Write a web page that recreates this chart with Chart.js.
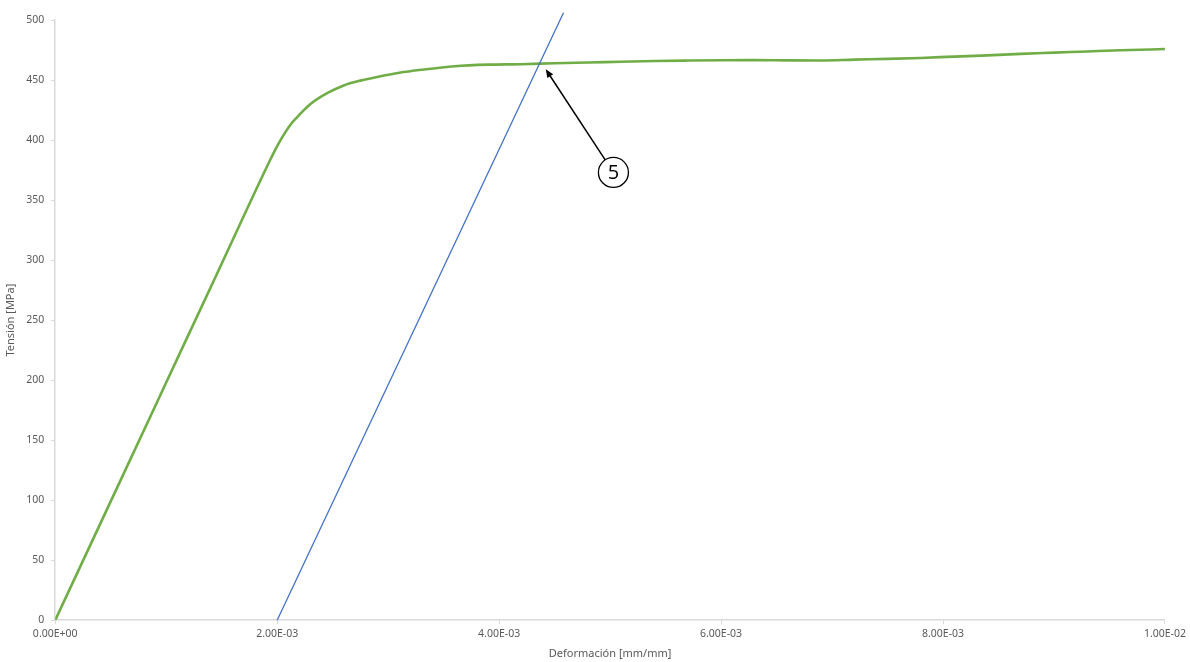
<!DOCTYPE html>
<html>
<head>
<meta charset="utf-8">
<script src="https://cdn.jsdelivr.net/npm/chart.js@4.4.1/dist/chart.umd.min.js"></script>
<style>
  html, body { margin: 0; padding: 0; background: #fff; }
  #wrap { width: 1190px; height: 662px; }
</style>
</head>
<body>
<div id="wrap"><canvas id="chart" width="1190" height="662"></canvas></div>
<script>
// Stress-strain curve (green)
const strainValues = [0, 0.0005, 0.0010, 0.0015, 0.00194, 0.0020, 0.00207, 0.00213, 0.0022, 0.0023,
    0.00245, 0.0026, 0.00275, 0.0029, 0.0031, 0.0033, 0.0036, 0.0039, 0.0042, 0.0045,
    0.0048, 0.0051, 0.0054, 0.0057, 0.006, 0.0063, 0.0066, 0.0069, 0.0072, 0.0075,
    0.0078, 0.0081, 0.0084, 0.0087, 0.009, 0.0093, 0.0096, 0.01];
const stressValues = [0, 99, 198, 297, 384, 395, 406, 414, 421, 430,
    439, 445.5, 449.5, 452.5, 456, 458.5, 461.5, 462.8, 463.2, 464,
    464.6, 465.2, 465.8, 466.2, 466.5, 466.6, 466.4, 466.3, 467, 467.6,
    468.4, 469.5, 470.5, 471.8, 472.8, 473.8, 474.8, 475.8];

// 0.2% offset line (blue)
const offsetStrain = [0.002, 0.00458];
const offsetStress = [0, 506];

// Axis ticks
const xTicks = [0, 0.002, 0.004, 0.006, 0.008, 0.01];
const yTicks = [0, 50, 100, 150, 200, 250, 300, 350, 400, 450, 500];

// Marker "5": arrow tip and circle centre, in data units
const markerLabel = '5';
const markerTip = [0.00442, 459];
const markerCircle = [0.00503, 373];

const textGray = '#595959';
const axisGray = '#d9d9d9';

function toPoints(xs, ys) {
    return xs.map((x, i) => ({ x: x, y: ys[i] }));
}

// Excel-like scientific label, e.g. 2.00E-03
function sciLabel(v) {
    if (v === 0) return '0.00E+00';
    const exp = Math.floor(Math.log10(Math.abs(v)) + 1e-9);
    const mant = v / Math.pow(10, exp);
    const sign = exp < 0 ? '-' : '+';
    return mant.toFixed(2) + 'E' + sign + String(Math.abs(exp)).padStart(2, '0');
}

// Draws the circled number with its arrow
const markerPlugin = {
    id: 'marker',
    afterDatasetsDraw(chart) {
        const { ctx, scales } = chart;
        const tx = scales.x.getPixelForValue(markerTip[0]);
        const ty = scales.y.getPixelForValue(markerTip[1]);
        const cx = scales.x.getPixelForValue(markerCircle[0]);
        const cy = scales.y.getPixelForValue(markerCircle[1]);
        const r = 15;
        const ang = Math.atan2(ty - cy, tx - cx);
        const sx = cx + Math.cos(ang) * r;
        const sy = cy + Math.sin(ang) * r;
        const head = 9;

        ctx.save();
        ctx.strokeStyle = '#000';
        ctx.fillStyle = '#000';
        ctx.lineWidth = 1.5;
        ctx.beginPath();
        ctx.moveTo(sx, sy);
        ctx.lineTo(tx - Math.cos(ang) * head * 0.8, ty - Math.sin(ang) * head * 0.8);
        ctx.stroke();
        ctx.beginPath();
        ctx.moveTo(tx, ty);
        ctx.lineTo(tx - head * Math.cos(ang - 0.4), ty - head * Math.sin(ang - 0.4));
        ctx.lineTo(tx - head * Math.cos(ang + 0.4), ty - head * Math.sin(ang + 0.4));
        ctx.closePath();
        ctx.fill();

        ctx.beginPath();
        ctx.arc(cx, cy, r, 0, Math.PI * 2);
        ctx.fillStyle = '#fff';
        ctx.fill();
        ctx.lineWidth = 1.3;
        ctx.stroke();
        ctx.fillStyle = '#000';
        ctx.font = '20px "Open Sans", sans-serif';
        ctx.textAlign = 'center';
        ctx.textBaseline = 'middle';
        ctx.fillText(markerLabel, cx, cy + 1);
        ctx.restore();
    }
};

const ctx = document.getElementById('chart').getContext('2d');
new Chart(ctx, {
    type: 'scatter',
    data: {
        datasets: [
            {
                label: 'Offset',
                data: toPoints(offsetStrain, offsetStress),
                showLine: true,
                borderColor: '#4472c4',
                borderWidth: 1.3,
                pointRadius: 0,
                clip: false
            },
            {
                label: 'Ensayo',
                data: toPoints(strainValues, stressValues),
                showLine: true,
                borderColor: '#70ad47',
                borderWidth: 2.6,
                pointRadius: 0,
                cubicInterpolationMode: 'monotone'
            }
        ]
    },
    options: {
        responsive: false,
        animation: false,
        devicePixelRatio: 1,
        layout: { padding: { left: 4, right: 4, top: 20, bottom: 2 } },
        plugins: {
            legend: { display: false },
            tooltip: { enabled: false }
        },
        scales: {
            x: {
                type: 'linear',
                min: 0,
                max: 0.01,
                afterBuildTicks: axis => { axis.ticks = xTicks.map(v => ({ value: v })); },
                ticks: {
                    color: textGray,
                    font: { family: 'Noto Sans', size: 10.5 },
                    padding: 4,
                    maxRotation: 0,
                    callback: v => sciLabel(v)
                },
                grid: { drawOnChartArea: false, color: axisGray, tickLength: 4 },
                border: { color: axisGray, width: 1.5 },
                title: {
                    display: true,
                    text: 'Deformación [mm/mm]',
                    color: textGray,
                    font: { family: 'Noto Sans', size: 11 },
                    padding: { top: 2, bottom: 0 }
                }
            },
            y: {
                type: 'linear',
                min: 0,
                max: 500,
                afterBuildTicks: axis => { axis.ticks = yTicks.map(v => ({ value: v })); },
                ticks: {
                    color: textGray,
                    font: { family: 'Noto Sans', size: 10.5 },
                    padding: 7
                },
                grid: { drawOnChartArea: false, color: axisGray, tickLength: 4 },
                border: { color: axisGray, width: 1.5 },
                title: {
                    display: true,
                    text: 'Tensión [MPa]',
                    color: textGray,
                    font: { family: 'Noto Sans', size: 11 },
                    padding: { top: 0, bottom: 2 }
                }
            }
        }
    },
    plugins: [markerPlugin]
});
</script>
</body>
</html>
